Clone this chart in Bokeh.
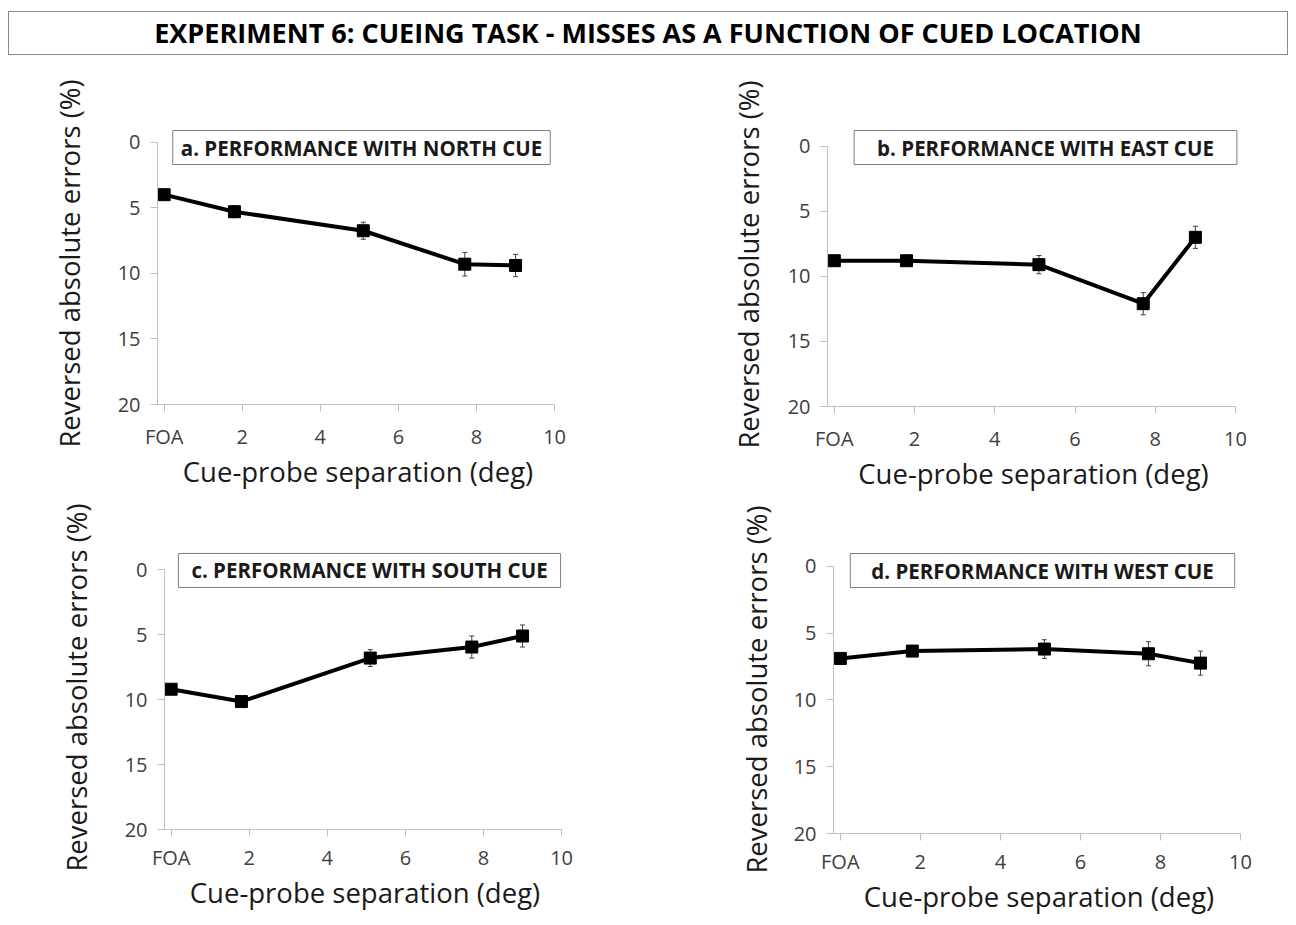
from bokeh.plotting import figure
from bokeh.models import Range1d, FixedTicker, Label, Whisker, ColumnDataSource, Div, TeeHead
from bokeh.layouts import column, row
from bokeh.embed import file_html
from bokeh.resources import INLINE

# ---------------- data ----------------
main_title = "EXPERIMENT 6: CUEING TASK - MISSES AS A FUNCTION OF CUED LOCATION"
x_label = "Cue-probe separation (deg)"
y_label = "Reversed absolute errors (%)"

separation = [0.0, 1.8, 5.1, 7.7, 9.0]
x_ticks = [0, 2, 4, 6, 8, 10]
x_tick_labels = ["FOA", "2", "4", "6", "8", "10"]
y_ticks = [0, 5, 10, 15, 20]

panel_titles = [
    "a. PERFORMANCE WITH NORTH CUE",
    "b. PERFORMANCE WITH EAST CUE",
    "c. PERFORMANCE WITH SOUTH CUE",
    "d. PERFORMANCE WITH WEST CUE",
]

north_misses = [4.0, 5.3, 6.75, 9.3, 9.4]
north_sem = [0.3, 0.45, 0.65, 0.9, 0.85]

east_misses = [8.8, 8.8, 9.1, 12.1, 7.0]
east_sem = [0.3, 0.35, 0.7, 0.85, 0.85]

south_misses = [9.2, 10.15, 6.8, 5.95, 5.1]
south_sem = [0.3, 0.35, 0.65, 0.85, 0.85]

west_misses = [6.9, 6.35, 6.2, 6.55, 7.25]
west_sem = [0.3, 0.4, 0.7, 0.9, 0.9]

series = [
    (north_misses, north_sem),
    (east_misses, east_sem),
    (south_misses, south_sem),
    (west_misses, west_sem),
]

# ---------------- layout / style ----------------
FONT = "Open Sans"
X0, X1 = -0.17, 10.1      # x range (left edge leaves room for the FOA marker)
Y_BOT = 20                # reversed y axis: 20 at the bottom

# page-pixel geometry of each panel (frame top shared within a row)
panel_layout = [
    dict(fx=0, fy=60, left=157, fw=401, right=82, top=62, zero_y=141.7, bot_y=403.7,
         bottom=92, tick_sd=11, xlab_sd=0, ylab_sd=27,
         title_px=(361, 147), title_pad=8),
    dict(fx=640, fy=60, left=187, fw=412, right=49, top=62, zero_y=145.7, bot_y=405.7,
         bottom=92, tick_sd=11, xlab_sd=0, ylab_sd=18,
         title_px=(1045, 147), title_pad=23),
    dict(fx=0, fy=498, left=164, fw=401, right=75, top=47, zero_y=569.3, bot_y=829.3,
         bottom=87, tick_sd=7, xlab_sd=0, ylab_sd=27,
         title_px=(369, 570), title_pad=13),
    dict(fx=640, fy=498, left=193, fw=411, right=44, top=47, zero_y=565.7, bot_y=832.7,
         bottom=87, tick_sd=7, xlab_sd=0, ylab_sd=16,
         title_px=(1042, 570), title_pad=21),
]


def make_panel(title, values, sem, lay):
    frame_top = lay["fy"] + lay["top"]
    fh = int(round(lay["bot_y"] - frame_top))
    scale = (lay["bot_y"] - lay["zero_y"]) / Y_BOT
    y_top = -(lay["zero_y"] - frame_top) / scale

    p = figure(
        frame_width=lay["fw"], frame_height=fh,
        min_border_left=lay["left"], min_border_right=lay["right"],
        min_border_top=lay["top"], min_border_bottom=lay["bottom"],
        x_range=Range1d(X0, X1), y_range=Range1d(Y_BOT, y_top),
        output_backend="svg", toolbar_location=None,
    )
    p.outline_line_color = None
    p.grid.visible = False
    p.background_fill_color = "white"
    p.border_fill_color = "white"

    xa = p.xaxis[0]
    xa.ticker = FixedTicker(ticks=x_ticks)
    xa.major_label_overrides = {t: l for t, l in zip(x_ticks, x_tick_labels)}
    xa.bounds = (X0, 10)
    xa.major_label_standoff = lay["tick_sd"]
    xa.axis_label = x_label
    xa.axis_label_standoff = lay["xlab_sd"]

    ya = p.yaxis[0]
    ya.ticker = FixedTicker(ticks=y_ticks)
    ya.bounds = (0, Y_BOT)
    ya.major_label_standoff = 10
    ya.major_label_orientation = "horizontal"
    ya.axis_label = y_label
    ya.axis_label_standoff = lay["ylab_sd"]

    for ax in (xa, ya):
        ax.axis_line_color = "#bfbfbf"
        ax.axis_line_width = 1
        ax.major_tick_line_color = "#bfbfbf"
        ax.major_tick_out = 7
        ax.major_tick_in = 0
        ax.minor_tick_line_color = None
        ax.major_label_text_font = FONT
        ax.major_label_text_font_size = "20px"
        ax.major_label_text_color = "#404040"
        ax.axis_label_text_font = FONT
        ax.axis_label_text_font_size = "27.5px"
        ax.axis_label_text_font_style = "normal"
        ax.axis_label_text_color = "#1a1a1a"

    lower = [v - e for v, e in zip(values, sem)]
    upper = [v + e for v, e in zip(values, sem)]
    src = ColumnDataSource(dict(x=separation, y=values, lower=lower, upper=upper))

    p.add_layout(Whisker(
        source=src, base="x", lower="lower", upper="upper",
        line_color="#404040", line_width=1,
        lower_head=TeeHead(size=5, line_color="#404040", line_width=1),
        upper_head=TeeHead(size=5, line_color="#404040", line_width=1),
    ))
    p.line("x", "y", source=src, line_color="black", line_width=4)
    p.scatter("x", "y", source=src, marker="square", size=12,
              fill_color="black", line_color="black")

    # panel title box (page-pixel anchor converted to data coordinates)
    px, py = lay["title_px"]
    fl = lay["fx"] + lay["left"]
    tx = X0 + (px - fl) / lay["fw"] * (X1 - X0)
    ty = (py - lay["zero_y"]) / scale
    pad = lay["title_pad"]
    p.add_layout(Label(
        x=tx, y=ty, text=title,
        text_align="center", text_baseline="middle",
        text_font=FONT, text_font_style="bold", text_font_size="20.5px",
        text_color="#1a1a1a",
        background_fill_color="white", border_line_color="#7f7f7f",
        border_line_width=1, padding=(pad, pad, 3, 3),
    ))
    return p


panels = [make_panel(t, v, e, l) for t, (v, e), l in zip(panel_titles, series, panel_layout)]

title_div = Div(
    text=main_title, width=1280, height=44, margin=(11, 0, 5, 8),
    styles={
        "border": "1.5px solid #8a8a8a", "box-sizing": "border-box",
        "font-family": "Open Sans", "font-weight": "bold", "font-size": "27px",
        "text-align": "center", "line-height": "41px", "color": "black",
        "background-color": "white", "white-space": "nowrap",
    },
)

layout = column(
    title_div,
    row(panels[0], panels[1]),
    row(panels[2], panels[3]),
)

open("out.html", "w").write(file_html(layout, INLINE))
